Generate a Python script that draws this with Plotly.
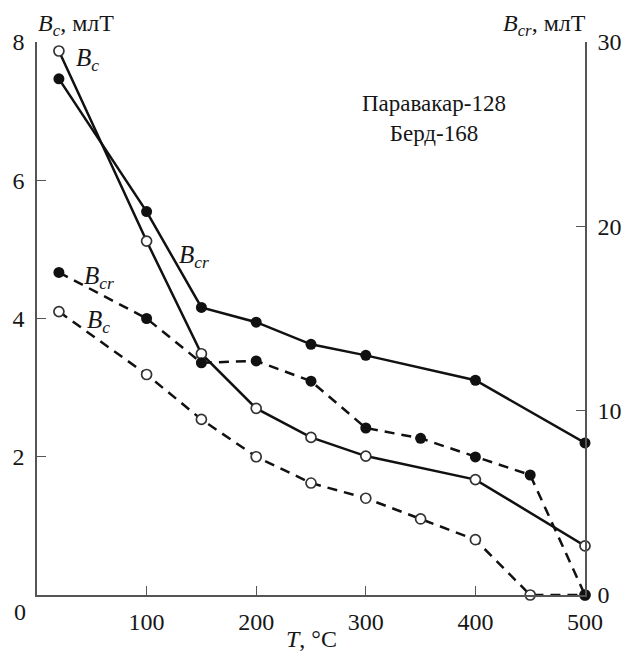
import plotly.graph_objects as go

# Temperature steps (°C)
t_solid = [20, 100, 150, 200, 250, 300, 400, 500]
t_dash = [20, 100, 150, 200, 250, 300, 350, 400, 450, 500]

# Паравакар-128 (solid lines)
bc_solid = [7.87, 5.12, 3.49, 2.70, 2.28, 2.01, 1.67, 0.71]       # Bc, mT (left axis)
bcr_solid = [28.0, 20.8, 15.6, 14.8, 13.6, 13.0, 11.65, 8.25]     # Bcr, mT (right axis)

# Берд-168 (dashed lines)
bc_dash = [4.10, 3.19, 2.54, 2.00, 1.62, 1.40, 1.10, 0.80, 0.0, 0.0]
bcr_dash = [17.5, 15.0, 12.6, 12.7, 11.6, 9.06, 8.5, 7.49, 6.51, 0.0]

x_ticks = [0, 100, 200, 300, 400, 500]
x_ticktext = ["", "100", "200", "300", "400", "500"]
y_ticks = [2, 4, 6, 8]
y2_ticks = [0, 10, 20, 30]

SERIF = "Liberation Serif"
INK = "#111111"
TEXT = "#161616"
AXIS = "#555555"

open_marker = dict(symbol="circle", size=10, color="white", line=dict(color="#333333", width=1.7))
filled_marker = dict(symbol="circle", size=11, color=INK, line=dict(color=INK, width=0))
dash_style = "10px,7px"

fig = go.Figure()
fig.add_trace(go.Scatter(x=t_dash, y=bc_dash, mode="lines+markers", cliponaxis=False,
                         line=dict(color=INK, width=2.5, dash=dash_style), marker=open_marker))
fig.add_trace(go.Scatter(x=t_dash, y=bcr_dash, yaxis="y2", mode="lines+markers", cliponaxis=False,
                         line=dict(color=INK, width=2.5, dash=dash_style), marker=filled_marker))
fig.add_trace(go.Scatter(x=t_solid, y=bcr_solid, yaxis="y2", mode="lines+markers", cliponaxis=False,
                         line=dict(color=INK, width=2.5), marker=filled_marker))
fig.add_trace(go.Scatter(x=t_solid, y=bc_solid, mode="lines+markers", cliponaxis=False,
                         line=dict(color=INK, width=2.5), marker=open_marker))

tickfont = dict(family=SERIF, size=24, color=TEXT)

fig.update_layout(
    width=634, height=654,
    margin=dict(l=34, r=46, t=42, b=59),
    paper_bgcolor="white", plot_bgcolor="white",
    showlegend=False,
    font=dict(family=SERIF, size=22, color=TEXT),
    xaxis=dict(range=[0, 500], tickvals=x_ticks, ticktext=x_ticktext,
               showline=True, linecolor=AXIS, linewidth=1.5,
               ticks="inside", ticklen=9, tickwidth=1.3, tickcolor=AXIS,
               showgrid=False, zeroline=False, tickfont=tickfont, ticklabelstandoff=4),
    yaxis=dict(range=[0, 8], tickvals=y_ticks,
               showline=True, linecolor=AXIS, linewidth=1.5,
               ticks="inside", ticklen=9, tickwidth=1.3, tickcolor=AXIS,
               showgrid=False, zeroline=False, tickfont=tickfont, ticklabelstandoff=6),
    yaxis2=dict(range=[0, 30], tickvals=y2_ticks, overlaying="y", side="right",
                showline=True, linecolor=AXIS, linewidth=1.5,
                ticks="inside", ticklen=9, tickwidth=1.3, tickcolor=AXIS,
                showgrid=False, zeroline=False, tickfont=tickfont, ticklabelstandoff=6),
)

def note(text, x, y, size=23, xanchor="left", yanchor="middle", xref="x", yref="y"):
    fig.add_annotation(text=text, x=x, y=y, xref=xref, yref=yref, showarrow=False,
                       xanchor=xanchor, yanchor=yanchor,
                       font=dict(family=SERIF, size=size, color=TEXT))

# axis titles
note("<i>B</i><sub><i>c</i></sub>, млТ", -0.002, 1.0, size=24, xref="paper", yref="paper", yanchor="bottom")
note("<i>B</i><sub><i>cr</i></sub>, млТ", 1.005, 1.0, size=24, xref="paper", yref="paper",
     xanchor="right", yanchor="bottom")
note("<i>T</i>, °C", 0.5, -0.08, size=24, xref="paper", yref="paper", xanchor="center")
note("0", -0.031, -0.03, size=24, xref="paper", yref="paper", xanchor="center")

# curve labels
note("<i>B</i><sub><i>c</i></sub>", 34, 7.75, size=25)
note("<i>B</i><sub><i>cr</i></sub>", 128, 4.9, size=25)
note("<i>B</i><sub><i>cr</i></sub>", 41, 4.6, size=25)
note("<i>B</i><sub><i>c</i></sub>", 44, 3.95, size=25)

# sample names
note("Паравакар-128<br>Берд-168", 295, 6.9, size=23)

fig.write_html("out.html")
